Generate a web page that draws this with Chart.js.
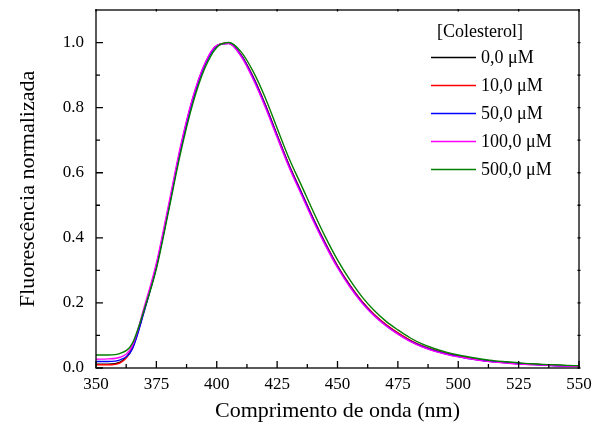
<!DOCTYPE html>
<html>
<head>
<meta charset="utf-8">
<script src="https://cdn.jsdelivr.net/npm/chart.js@4"></script>
<style>
html, body { margin: 0; padding: 0; background: #fff; }
#wrap { width: 602px; height: 436px; }
</style>
</head>
<body>
<div id="wrap"><canvas id="grafico" width="602" height="436"></canvas></div>
<script>
// Comprimento de onda (nm)
const comprimentos = [350,355,360,365,370,375,380,385,390,395,400,405,410,415,420,425,430,435,440,445,450,
                      455,460,465,470,475,480,485,490,495,500,505,510,515,520,525,530,535,540,545,550];

// Fluorescência normalizada para cada concentração de colesterol
const conc00 = [0.012,0.012,0.018,0.062,0.180,0.315,0.490,0.675,0.825,0.932,0.990,0.998,0.962,0.895,0.810,0.715,0.622,0.540,0.458,0.382,0.313,
                0.255,0.205,0.165,0.133,0.107,0.085,0.068,0.055,0.045,0.037,0.030,0.024,0.020,0.017,0.014,0.012,0.010,0.008,0.007,0.006];
const conc10 = [0.010,0.010,0.016,0.060,0.178,0.313,0.489,0.674,0.825,0.932,0.990,0.999,0.963,0.896,0.811,0.716,0.623,0.541,0.459,0.383,0.314,
                0.256,0.206,0.166,0.134,0.108,0.086,0.068,0.055,0.045,0.037,0.030,0.024,0.020,0.017,0.014,0.012,0.010,0.008,0.007,0.006];
const conc50 = [0.020,0.020,0.025,0.058,0.175,0.311,0.487,0.672,0.823,0.931,0.990,0.998,0.961,0.893,0.808,0.713,0.620,0.538,0.456,0.380,0.311,
                0.253,0.203,0.163,0.131,0.105,0.083,0.066,0.053,0.043,0.035,0.028,0.023,0.019,0.016,0.013,0.011,0.009,0.007,0.006,0.005];
const conc100 = [0.027,0.028,0.033,0.068,0.188,0.322,0.500,0.682,0.830,0.935,0.991,0.997,0.958,0.888,0.803,0.708,0.615,0.533,0.451,0.376,0.308,
                 0.250,0.201,0.161,0.130,0.104,0.082,0.065,0.052,0.042,0.034,0.028,0.022,0.018,0.015,0.012,0.010,0.009,0.007,0.006,0.005];
const conc500 = [0.040,0.040,0.045,0.075,0.180,0.305,0.480,0.660,0.810,0.920,0.985,1.000,0.972,0.912,0.832,0.737,0.643,0.562,0.480,0.402,0.332,
                 0.272,0.220,0.178,0.144,0.117,0.093,0.074,0.060,0.049,0.040,0.033,0.027,0.022,0.019,0.016,0.013,0.011,0.010,0.008,0.007];

const rotulos = ['0,0 \u03bcM', '10,0 \u03bcM', '50,0 \u03bcM', '100,0 \u03bcM', '500,0 \u03bcM'];
const cores = ['#000000', '#ff0000', '#0000ff', '#ff00ff', '#007f00'];
const series = [conc00, conc10, conc50, conc100, conc500];

// Marcas dos eixos
const xTicks = [350, 375, 400, 425, 450, 475, 500, 525, 550];
const xMinor = [362.5, 387.5, 412.5, 437.5, 462.5, 487.5, 512.5, 537.5];
const yTicks = [0, 0.2, 0.4, 0.6, 0.8, 1.0];
const yMinor = [0.1, 0.3, 0.5, 0.7, 0.9];

const fonte = "'Liberation Serif', 'Times New Roman', serif";

// Moldura e marcas internas (estilo Origin)
const molduraPlugin = {
    id: 'moldura',
    afterDatasetsDraw(chart) {
        const { ctx, chartArea: a, scales: { x, y } } = chart;
        ctx.save();
        ctx.strokeStyle = '#000';
        ctx.lineWidth = 1.3;
        ctx.strokeRect(a.left, a.top, a.right - a.left, a.bottom - a.top);
        ctx.beginPath();
        xTicks.forEach(v => {
            const px = x.getPixelForValue(v);
            ctx.moveTo(px, a.bottom); ctx.lineTo(px, a.bottom - 7);
            ctx.moveTo(px, a.top - 1); ctx.lineTo(px, a.top + 1.5);
        });
        xMinor.forEach(v => {
            const px = x.getPixelForValue(v);
            ctx.moveTo(px, a.bottom); ctx.lineTo(px, a.bottom - 4);
        });
        yTicks.forEach(v => {
            const py = y.getPixelForValue(v);
            ctx.moveTo(a.left, py); ctx.lineTo(a.left + 7, py);
            ctx.moveTo(a.right - 1.5, py); ctx.lineTo(a.right + 1.5, py);
        });
        yMinor.forEach(v => {
            const py = y.getPixelForValue(v);
            ctx.moveTo(a.left, py); ctx.lineTo(a.left + 4, py);
            ctx.moveTo(a.right - 1.5, py); ctx.lineTo(a.right + 1.5, py);
        });
        ctx.stroke();
        ctx.restore();
    }
};

// Legenda dentro da área do gráfico
const legendaPlugin = {
    id: 'legendaInterna',
    afterDatasetsDraw(chart) {
        const { ctx, chartArea: a } = chart;
        ctx.save();
        ctx.font = `18px ${fonte}`;
        ctx.fillStyle = '#000';
        ctx.textBaseline = 'middle';
        ctx.textAlign = 'left';
        ctx.fillText('[Colesterol]', a.right - 142, a.top + 22);
        chart.data.datasets.forEach((ds, i) => {
            const yy = a.top + 47.5 + i * 28;
            ctx.strokeStyle = ds.borderColor;
            ctx.lineWidth = 1.5;
            ctx.beginPath();
            ctx.moveTo(a.right - 148, yy);
            ctx.lineTo(a.right - 103, yy);
            ctx.stroke();
            ctx.fillText(ds.label, a.right - 98, yy + 1);
        });
        ctx.restore();
    }
};

const datasets = series.map((s, i) => ({
    label: rotulos[i],
    data: s.map((v, j) => ({ x: comprimentos[j], y: v })),
    borderColor: cores[i],
    borderWidth: 1.4,
    pointRadius: 0,
    fill: false,
    cubicInterpolationMode: 'monotone',
    order: series.length - i
}));

new Chart(document.getElementById('grafico').getContext('2d'), {
    type: 'line',
    data: { datasets },
    options: {
        responsive: false,
        animation: false,
        layout: { padding: { left: 0, right: 23, top: 10, bottom: 0 } },
        scales: {
            x: {
                type: 'linear',
                min: 350,
                max: 550,
                afterBuildTicks: s => { s.ticks = xTicks.map(v => ({ value: v })); },
                afterFit: s => { s.height = 68; s.paddingLeft = 0; s.paddingRight = 0; },
                grid: { display: false, drawTicks: false, tickLength: 0 },
                border: { display: false },
                ticks: {
                    color: '#000',
                    padding: 6,
                    maxRotation: 0,
                    font: { family: fonte, size: 17 },
                    callback: v => String(v)
                },
                title: {
                    display: true,
                    text: 'Comprimento de onda (nm)',
                    color: '#000',
                    font: { family: fonte, size: 22 },
                    padding: { top: 0, bottom: 12 }
                }
            },
            y: {
                min: 0,
                max: 1.1,
                afterBuildTicks: s => { s.ticks = yTicks.map(v => ({ value: v })); },
                afterFit: s => { s.width = 96; s.paddingTop = 0; s.paddingBottom = 0; },
                grid: { display: false, drawTicks: false, tickLength: 0 },
                border: { display: false },
                ticks: {
                    color: '#000',
                    padding: 12,
                    font: { family: fonte, size: 17 },
                    callback: v => Number(v).toFixed(1)
                },
                title: {
                    display: true,
                    text: 'Fluorescência normalizada',
                    color: '#000',
                    font: { family: fonte, size: 22 },
                    padding: { top: 15, bottom: 0 }
                }
            }
        },
        plugins: {
            legend: { display: false },
            tooltip: { enabled: false }
        }
    },
    plugins: [molduraPlugin, legendaPlugin]
});
</script>
</body>
</html>
